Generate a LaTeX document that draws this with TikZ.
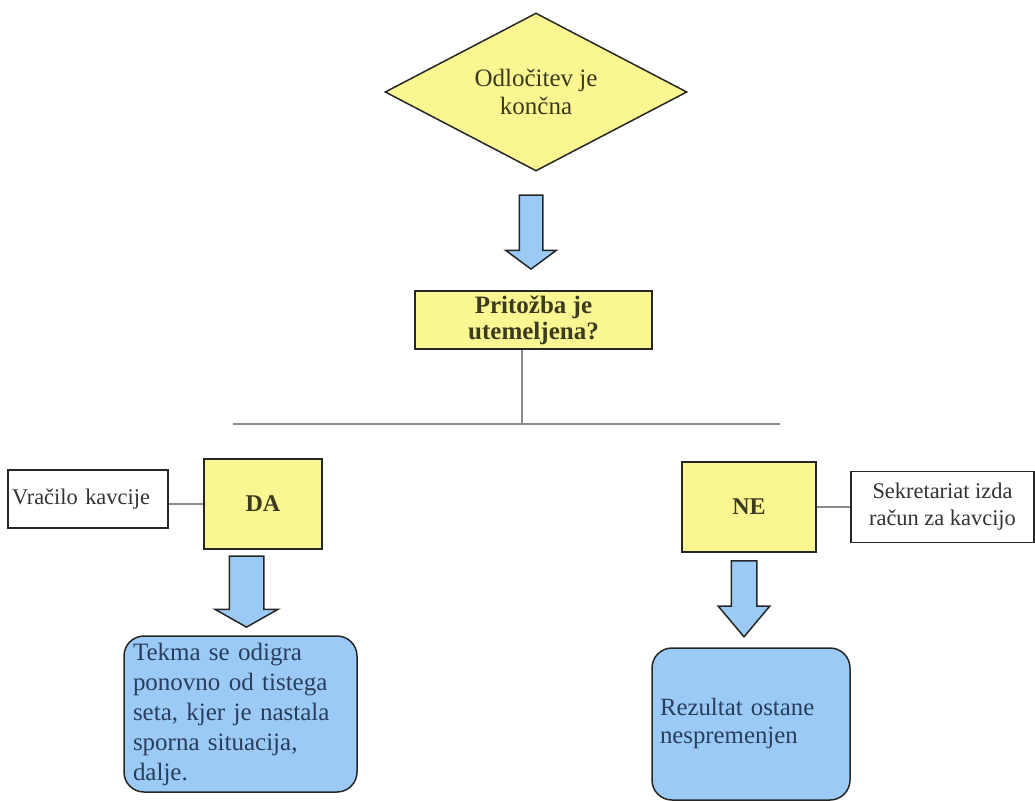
\documentclass[tikz,border=0pt]{standalone}
\usepackage{fontspec}
\setmainfont{Liberation Serif}
\usetikzlibrary{positioning, shapes.geometric, shapes.arrows}

\definecolor{boxyellow}{RGB}{250,246,145}
\definecolor{boxblue}{RGB}{156,202,246}
\definecolor{textolive}{RGB}{58,58,30}
\definecolor{textblue}{RGB}{40,62,92}
\definecolor{linegray}{RGB}{140,140,140}

\begin{document}
\begin{tikzpicture}[x=0.5pt, y=-0.5pt, on grid,
    yellowbox/.style={draw=black!85, fill=boxyellow, line width=0.75pt, text=textolive, inner sep=0pt, align=center},
    notebox/.style={draw=black!85, fill=white, line width=0.75pt, text=black!80, inner sep=0pt, align=center, font=\fontsize{11.2}{13.4}\selectfont},
    resultbox/.style={draw=black!85, fill=boxblue, line width=0.75pt, text=textblue, rounded corners=10pt, inner ysep=0pt, align=left},
    downarrow/.style={draw=black!85, fill=boxblue, line width=0.75pt, shape=single arrow, rotate=-90, anchor=tip, inner xsep=0pt},
    link/.style={draw=linegray, line width=0.75pt}]
                \useasboundingbox (0,0) rectangle (1035,800);

                \node[diamond, shape aspect=2, yellowbox, minimum width=151pt, minimum height=79pt, font=\fontsize{12.5}{14}\selectfont] (odl) at (536,92) {Odločitev je\\končna};
                \node[yellowbox, minimum width=118.5pt, minimum height=29pt, font=\bfseries\fontsize{12.5}{13}\selectfont] (q) at (533.5,320) {Pritožba je\\utemeljena?};
                \node[yellowbox, minimum width=59pt, minimum height=45pt, font=\bfseries\fontsize{12}{14}\selectfont] (da) at (263,504) {DA};
                \node[yellowbox, minimum width=67pt, minimum height=45pt, font=\bfseries\fontsize{12}{14}\selectfont] (ne) at (749,507) {NE};
                \node[notebox, align=left, text width=76pt, inner xsep=2pt, minimum height=29pt, left=87.5pt of da, yshift=2.5pt] (vr) {Vračilo kavcije};
                \node[notebox, minimum width=91.5pt, minimum height=35.5pt, right=96.75pt of ne] (sek) {Sekretariat izda\\račun za kavcijo};
                \node[resultbox, minimum height=78pt, text width=107.5pt, inner xsep=4.5pt, font=\fontsize{12.5}{15}\selectfont] (rep) at (240.5,714) {Tekma se odigra\\ponovno od tistega\\seta, kjer je nastala\\sporna situacija,\\dalje.};
                \node[resultbox, minimum height=76pt, text width=91pt, inner xsep=4pt, font=\fontsize{12.4}{14}\selectfont] (res) at (751,724) {Rezultat ostane\\nespremenjen};

                \node[downarrow, minimum height=37pt, inner ysep=5.5pt, single arrow head extend=6.75pt, single arrow tip angle=107] (arr1) at (531,270) {};
                \node[downarrow, minimum height=35.5pt, inner ysep=8.25pt, single arrow head extend=7pt, single arrow tip angle=121] (arrda) at (246.5,628) {};
                \node[downarrow, minimum height=38pt, inner ysep=6pt, single arrow head extend=6.5pt, single arrow tip angle=80] (arrne) at (744,638) {};

                \coordinate (split) at (522,424);
                \coordinate (barL) at (233,424);
                \coordinate (barR) at (780,424);

                \draw[link] (split |- q.south) -- (split);
                \draw[link] (barL) -- (barR);
                \draw[link] (vr.east |- da.west) -- (da.west);
                \draw[link] (ne) -- (sek);
              \end{tikzpicture}
\end{document}
